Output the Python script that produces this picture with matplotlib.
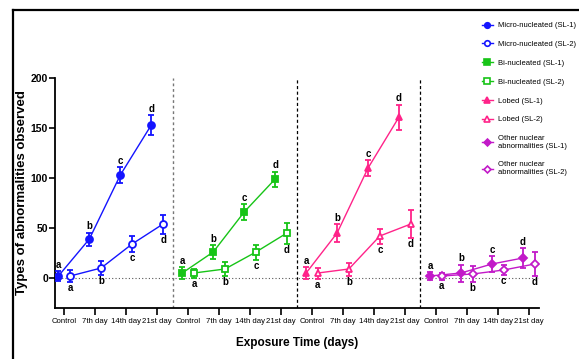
import matplotlib
matplotlib.use("Agg")
import matplotlib.pyplot as plt
from matplotlib.lines import Line2D
import numpy as np

days = ["Control", "7th day", "14th day", "21st day"]
letters = ["a", "b", "c", "d"]

micro_sl1 = [2, 39, 103, 153]
micro_sl1_err = [5, 6.5, 8, 10]
micro_sl2 = [2, 10, 34, 54]
micro_sl2_err = [6, 7, 8, 9.5]

bi_sl1 = [5, 26, 66, 99]
bi_sl1_err = [6, 7, 8, 7.5]
bi_sl2 = [5, 9, 26, 45]
bi_sl2_err = [4.5, 7, 7.5, 10.5]

lobed_sl1 = [5, 45, 110, 161]
lobed_sl1_err = [6, 9, 8, 12.5]
lobed_sl2 = [5, 9, 42, 54]
lobed_sl2_err = [5.5, 6.5, 7.5, 14]

other_sl1 = [2, 5, 14, 20]
other_sl1_err = [4, 8.5, 8, 10]
other_sl2 = [2, 4, 8, 14]
other_sl2_err = [3.5, 8, 5, 12]

groups = [
    ("Micro-nucleated", "#1414ff", "o", micro_sl1, micro_sl1_err, micro_sl2, micro_sl2_err),
    ("Bi-nucleated", "#17c417", "s", bi_sl1, bi_sl1_err, bi_sl2, bi_sl2_err),
    ("Lobed", "#ff2389", "^", lobed_sl1, lobed_sl1_err, lobed_sl2, lobed_sl2_err),
    ("Other nuclear\nabnormalities", "#c21ac8", "D", other_sl1, other_sl1_err, other_sl2, other_sl2_err),
]

plt.rcParams["font.family"] = ["Liberation Sans", "DejaVu Sans"]

fig = plt.figure(figsize=(5.79, 3.59), dpi=100)
ax = fig.add_axes([55 / 579, 1 - 308 / 359, 484 / 579, 230 / 359])

off = 0.19
handles = []
labels = []
for g, (name, col, mk, y1, e1, y2, e2) in enumerate(groups):
    base = np.arange(4) + 4 * g
    ms = 4.2 if mk == "D" else 5
    for ys, es, dx, filled, tag in [(y1, e1, -off, True, "SL-1"), (y2, e2, off, False, "SL-2")]:
        x = base + dx
        ax.errorbar(x, ys, yerr=es, color=col, marker=mk, ms=ms, lw=1.0,
                    mfc=col if filled else "white", mec=col, mew=1.3,
                    elinewidth=1.3, capsize=2.2, capthick=1.3, zorder=3)
        for xi, yi, ei, lt in zip(x, ys, es, letters):
            if filled:
                ax.annotate(lt, (xi, yi + ei), xytext=(0, 1), textcoords="offset points",
                            ha="center", va="bottom", fontsize=7, fontweight="bold")
            else:
                ax.annotate(lt, (xi, yi - ei), xytext=(0, -1), textcoords="offset points",
                            ha="center", va="top", fontsize=7, fontweight="bold")
        handles.append(Line2D([], [], color=col, marker=mk, ms=4 if mk != "D" else 3.5, lw=1,
                              mfc=col if filled else "white", mec=col, mew=1.2))
        labels.append(f"{name} ({tag})")

ax.axhline(0, color="#555555", ls=(0, (1, 2)), lw=0.8, zorder=1)
ax.axvline(3.5, color="#777777", ls=(0, (2, 2)), lw=1.0)
for xv in [7.5, 11.5]:
    ax.axvline(xv, color="black", ls=(0, (2.5, 2)), lw=0.9)

ax.set_xlim(-0.3, 15.33)
ax.set_ylim(-30, 200)
ax.set_xticks(np.arange(16))
ax.set_xticklabels(days * 4, fontsize=5.6)
ax.set_yticks([0, 50, 100, 150, 200])
ax.set_yticklabels(["0", "50", "100", "150", "200"], fontsize=7.5, fontweight="bold")
ax.tick_params(axis="x", length=5, width=1.2, pad=2.5)
ax.tick_params(axis="y", length=4, width=1.2, pad=1)
for s in ["top", "right"]:
    ax.spines[s].set_visible(False)
for s in ["left", "bottom"]:
    ax.spines[s].set_linewidth(1.3)

ax.set_ylabel("Types of abnormalities observed", fontsize=9.5, fontweight="bold")
ax.yaxis.set_label_coords(-0.055, 0.5)
fig.text(297 / 579, 1 - 343 / 359, "Exposure Time (days)", ha="center", va="center",
         fontsize=8.5, fontweight="bold")

fig.legend(handles, labels, loc="upper left", bbox_to_anchor=(482 / 579, 1 - 22 / 359),
           frameon=False, prop={"size": 5.5}, handlelength=1.4,
           handletextpad=0.7, labelspacing=1.5, borderaxespad=0, borderpad=0)

fig.add_artist(Line2D([13 / 579, 1], [1 - 10 / 359, 1 - 10 / 359], color="black", lw=1.6))
fig.add_artist(Line2D([13 / 579, 13 / 579], [0, 1 - 10 / 359], color="black", lw=1.6))

fig.savefig("out.png", dpi=100)
